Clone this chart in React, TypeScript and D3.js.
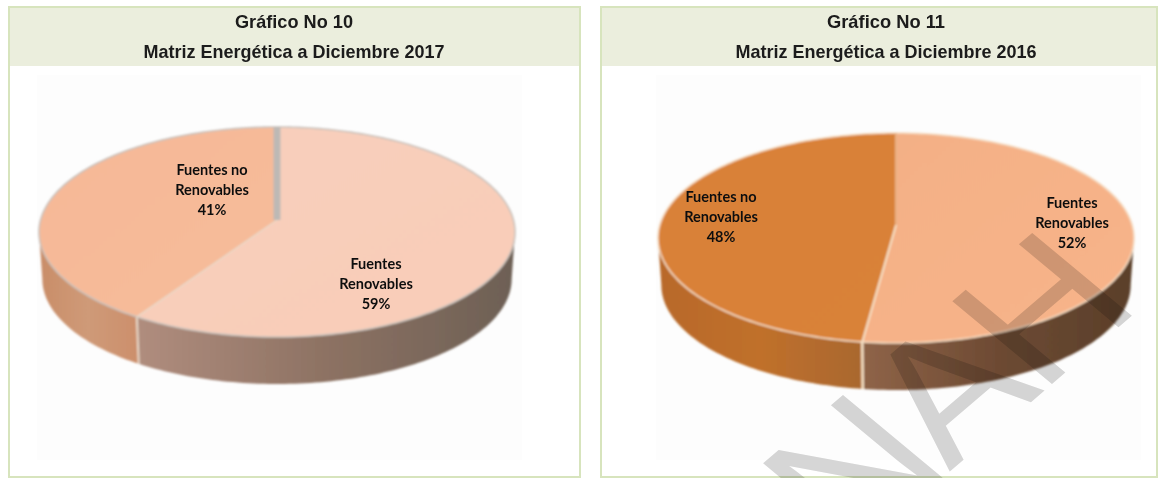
import React from "react";
import * as d3 from "d3";

const W = 1158;
const H = 478;
const categories = ["Fuentes Renovables", "Fuentes no Renovables"];
const values2017 = [59, 41];
const values2016 = [52, 48];
const figureLabels = ["Gráfico No 10", "Gráfico No 11"];
const subtitles = ["Matriz Energética a Diciembre 2017", "Matriz Energética a Diciembre 2016"];
const watermark = "NAH";

type Cfg = {
  id: string; values: number[]; cx: number; cy: number; apexY: number; rx: number; ry: number; depth: number;
  top: string[][]; wall: string[][]; rim: string; sep: string; sepW: number; labelPos: number[][];
  panel: number[]; title: number; titleIdx: number; gap: number;
};

const configs: Cfg[] = [
  {
    id: "a", values: values2017, cx: 277, cy: 232, apexY: 220, rx: 238, ry: 105, depth: 47,
    top: [["#f8cfbc", "#f9cdb8"], ["#f6b897", "#f7bc9a"]],
    wall: [["#b08d7e", "#8d7263", "#6d6055"], ["#c98d68", "#cf9a78", "#cc8f6c"]],
    rim: "#c9c2bc", sep: "#e9d8c8", sepW: 2, gap: 7,
    labelPos: [[376, 264], [212, 170]],
    panel: [9, 7, 571, 470], title: 294, titleIdx: 0,
  },
  {
    id: "b", values: values2016, cx: 896, cy: 238, apexY: 225, rx: 238, ry: 105, depth: 47,
    top: [["#f3b086", "#f8b48a"], ["#d98139", "#d98239"]],
    wall: [["#8f6448", "#6d4a33", "#5a3f2a"], ["#b8692a", "#c0702c", "#a9682f"]],
    rim: "#f5dcc2", sep: "#f7e3c8", sepW: 2.5, gap: 0,
    labelPos: [[1072, 203], [721, 197]],
    panel: [601, 7, 556, 470], title: 886, titleIdx: 1,
  },
];

const tau = Math.PI * 2;

function Pie3D({ c }: { c: Cfg }) {
  const q = c.apexY - c.cy;
  const kk = -q / c.ry;
  const R = c.rx * Math.sqrt(1 - kk * kk);
  const project = (a: number): [number, number] => {
    const u = Math.sin(a);
    const v = -Math.cos(a);
    const d = 1 - kk * v;
    return [c.cx + (R * u) / d, c.cy + (c.ry * v + q) / d];
  };
  const apex: [number, number] = [c.cx, c.apexY];
  const pie = d3.pie<number>().sort(null).startAngle(0).endAngle(tau);
  const arcs = pie(c.values);
  const line = d3.line<[number, number]>();
  const sample = (a0: number, a1: number) => {
    const n = Math.max(2, Math.ceil(Math.abs(a1 - a0) / 0.02));
    return d3.range(n + 1).map((i) => a0 + ((a1 - a0) * i) / n);
  };
  const wallStart = Math.PI - Math.acos(kk);
  const wallEnd = tau - wallStart;
  const lower = (p: [number, number]): [number, number] => [c.cx + (p[0] - c.cx) * 0.986, p[1] + c.depth];
  const topPaths = arcs.map((s) => line([apex, ...sample(s.startAngle, s.endAngle).map(project), apex]) as string);
  const walls = arcs.map((s) => {
    const a0 = Math.max(s.startAngle, wallStart);
    const a1 = Math.min(s.endAngle, wallEnd);
    if (a1 <= a0) return "";
    const rim = sample(a0, a1).map(project);
    const low = rim.slice().reverse().map(lower);
    return line([...rim, ...low]) + "Z";
  });
  const whole = line(sample(0, tau).map(project)) + "Z";
  const splitAngle = arcs[0].endAngle;
  const sp = project(splitAngle);
  const spLow = lower(sp);
  const topP = project(0);

  return (
    <g filter="url(#soft)">
      <defs>
        {arcs.map((_, i) => (
          <linearGradient key={i} id={`${c.id}w${i}`} gradientUnits="userSpaceOnUse"
            x1={i === 0 ? sp[0] : c.cx - c.rx} x2={i === 0 ? c.cx + c.rx : sp[0]} y1={0} y2={0}>
            {c.wall[i].map((col, j) => (
              <stop key={j} offset={j / (c.wall[i].length - 1)} stopColor={col} />
            ))}
          </linearGradient>
        ))}
        {arcs.map((_, i) => (
          <linearGradient key={i} id={`${c.id}t${i}`} x1="0" x2="1" y1="0" y2="1">
            <stop offset="0" stopColor={c.top[i][0]} />
            <stop offset="1" stopColor={c.top[i][1]} />
          </linearGradient>
        ))}
      </defs>
      {walls.map((d, i) => d && <path key={i} d={d} fill={`url(#${c.id}w${i})`} />)}
      <line x1={sp[0]} x2={spLow[0]} y1={sp[1]} y2={spLow[1]} stroke={c.sep} strokeWidth={c.sepW} />
      {topPaths.map((d, i) => <path key={i} d={d} fill={`url(#${c.id}t${i})`} />)}
      <path d={whole} fill="none" stroke={c.rim} strokeWidth={1.6} />
      <line x1={apex[0]} y1={apex[1]} x2={sp[0]} y2={sp[1]} stroke={c.sep} strokeWidth={c.sepW - 0.6} />
      {c.gap > 0 ? (
        <line x1={topP[0]} y1={topP[1]} x2={apex[0]} y2={apex[1]} stroke="#bdb9b5" strokeWidth={c.gap} />
      ) : (
        <line x1={topP[0]} y1={topP[1]} x2={apex[0]} y2={apex[1]} stroke="#eab183" strokeWidth={2} />
      )}
    </g>
  );
}

function sliceLines(name: string, value: number) {
  const parts = name.split(" ");
  const first = parts.length > 2 ? parts.slice(0, 2).join(" ") : parts[0];
  return [first, parts[parts.length - 1], `${value}%`];
}

export default function App() {
  return (
    <svg width={W} height={H} viewBox={`0 0 ${W} ${H}`}
      style={{ position: "absolute", left: 0, top: 0, background: "#fff" }}>
      <defs>
        <filter id="soft" x="-5%" y="-5%" width="110%" height="110%">
          <feGaussianBlur stdDeviation="0.8" />
        </filter>
        <filter id="softText" x="-5%" y="-20%" width="110%" height="140%">
          <feGaussianBlur stdDeviation="0.3" />
        </filter>
      </defs>
      {configs.map((c) => {
        const [x, y, w, h] = c.panel;
        return (
          <g key={c.id}>
            <rect x={x} y={y} width={w} height={h} fill="#fff" stroke="#d7e4bd" strokeWidth={2} />
            <rect x={x + 1} y={y + 1} width={w - 2} height={58} fill="#ebeedd" />
            <rect x={c.cx - 240} y={75} width={485} height={385} fill="#fdfdfd" />
            <g fontFamily="'Liberation Sans',sans-serif" fontWeight={700} fontSize={18.5} fill="#1a1a1a" textAnchor="middle" filter="url(#softText)">
              <text x={c.title} y={28} textLength={118} lengthAdjust="spacingAndGlyphs">{figureLabels[c.titleIdx]}</text>
              <text x={c.title} y={58} textLength={301} lengthAdjust="spacingAndGlyphs">{subtitles[c.titleIdx]}</text>
            </g>
            <Pie3D c={c} />
            <g fontFamily="Lato,'Open Sans',sans-serif" fontWeight={700} fontSize={14.5} fill="#111" textAnchor="middle" filter="url(#softText)">
              {categories.map((cat, i) => {
                const [lx, ly] = c.labelPos[i];
                return sliceLines(cat, c.values[i]).map((t, j) => (
                  <text key={`${i}-${j}`} x={lx} y={ly + 5 + j * 20}>{t}</text>
                ));
              })}
            </g>
          </g>
        );
      })}
      <text
        transform="matrix(0.76,-0.65,0.77,0.64,851,556)"
        fontFamily="'Liberation Sans',sans-serif"
        fontSize={188}
        letterSpacing={-6}
        fill="#d6d6d6"
        style={{ mixBlendMode: "multiply" }}
      >
        {watermark}
      </text>
    </svg>
  );
}
